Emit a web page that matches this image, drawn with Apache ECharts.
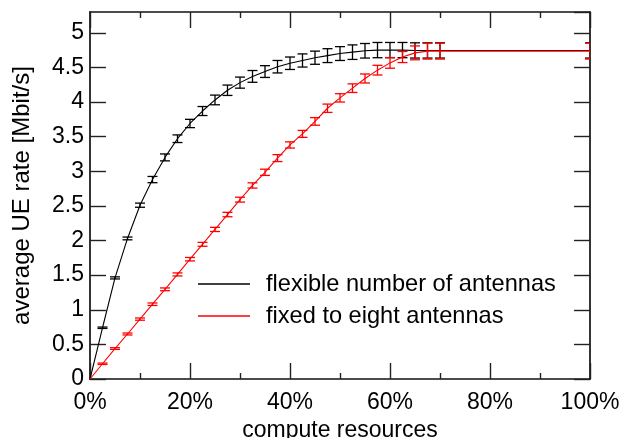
<!DOCTYPE html>
<html>
<head>
<meta charset="utf-8">
<script src="https://cdn.jsdelivr.net/npm/echarts@6/dist/echarts.min.js"></script>
<style>
  html, body { margin: 0; padding: 0; background: #fff; }
  #chart { width: 621px; height: 438px; }
</style>
</head>
<body>
<div id="chart"></div>
<script>
// Compute resources (%) at which the average UE rate was measured
const computeShare = [2.5, 5, 7.5, 10, 12.5, 15, 17.5, 20, 22.5, 25, 27.5, 30, 32.5, 35, 37.5,
                      40, 42.5, 45, 47.5, 50, 52.5, 55, 57.5, 60, 62.5, 65, 67.5, 70, 100];

// Average UE rate [Mbit/s], flexible number of antennas
const flexibleRate = [0.74, 1.46, 2.03, 2.51, 2.88, 3.20, 3.47, 3.69, 3.87, 4.03, 4.17, 4.28, 4.37, 4.44, 4.51,
                      4.56, 4.60, 4.64, 4.67, 4.70, 4.72, 4.74, 4.75, 4.75, 4.75, 4.745, 4.745, 4.745, 4.745];
const flexibleErr  = [0.01, 0.015, 0.02, 0.03, 0.045, 0.05, 0.055, 0.06, 0.065, 0.07, 0.075, 0.08, 0.085, 0.085, 0.09,
                      0.09, 0.095, 0.095, 0.1, 0.1, 0.105, 0.105, 0.11, 0.11, 0.11, 0.11, 0.11, 0.11, 0.11];

// Average UE rate [Mbit/s], fixed to eight antennas
const fixedRate = [0.22, 0.44, 0.65, 0.865, 1.08, 1.295, 1.51, 1.73, 1.945, 2.16, 2.375, 2.59, 2.795, 2.985, 3.19,
                   3.38, 3.54, 3.72, 3.91, 4.06, 4.20, 4.34, 4.46, 4.565, 4.65, 4.71, 4.735, 4.735, 4.735];
const fixedErr  = [0.01, 0.012, 0.014, 0.016, 0.018, 0.02, 0.022, 0.025, 0.028, 0.03, 0.032, 0.035, 0.038, 0.045, 0.05,
                   0.045, 0.05, 0.055, 0.06, 0.06, 0.062, 0.065, 0.07, 0.077, 0.08, 0.1, 0.115, 0.115, 0.115];

const xTicks = [0, 20, 40, 60, 80, 100];
const yTicks = [0, 0.5, 1, 1.5, 2, 2.5, 3, 3.5, 4, 4.5, 5];

const FONT = 'Liberation Sans, Arial, Helvetica, sans-serif';
const BLACK = '#000000';
const RED = '#ff0000';

function linePoints(xs, ys) {
  const pts = [[0, 0]];
  xs.forEach((x, i) => pts.push([x, ys[i]]));
  return pts;
}
function errPoints(xs, ys, es) {
  return xs.map((x, i) => [x, ys[i], es[i]]);
}
function errorBars(color) {
  return function (params, api) {
    const x = api.value(0), y = api.value(1), e = api.value(2);
    const lo = api.coord([x, y - e]);
    const hi = api.coord([x, y + e]);
    const w = 5;
    const style = { stroke: color, lineWidth: 1.3, fill: null };
    return {
      type: 'group',
      children: [
        { type: 'line', shape: { x1: lo[0], y1: lo[1], x2: hi[0], y2: hi[1] }, style },
        { type: 'line', shape: { x1: lo[0] - w, y1: lo[1], x2: lo[0] + w, y2: lo[1] }, style },
        { type: 'line', shape: { x1: hi[0] - w, y1: hi[1], x2: hi[0] + w, y2: hi[1] }, style }
      ]
    };
  };
}

const axisLine = { show: true, onZero: false, lineStyle: { color: '#111', width: 1.7 } };
const tickStyle = { color: '#222', width: 1.4 };

const chart = echarts.init(document.getElementById('chart'), null, { renderer: 'canvas' });
chart.setOption({
  animation: false,
  backgroundColor: '#ffffff',
  textStyle: { fontFamily: FONT },
  grid: { left: 90, right: 31, top: 12, bottom: 59, containLabel: false, outerBoundsMode: 'none' },
  legend: {
    data: ['flexible number of antennas', 'fixed to eight antennas'],
    orient: 'vertical',
    left: 198,
    top: 272,
    padding: 0,
    icon: 'rect',
    itemWidth: 52,
    itemHeight: 1.3,
    itemGap: 8,
    textStyle: { fontFamily: FONT, fontSize: 23.6, color: BLACK, lineHeight: 23.6, padding: [0, 0, 0, 11] }
  },
  xAxis: [
    {
      type: 'value', position: 'bottom', min: xTicks[0], max: xTicks[xTicks.length - 1], interval: 20,
      name: 'compute resources', nameLocation: 'middle', nameGap: 37,
      nameTextStyle: { fontFamily: FONT, fontSize: 23, color: BLACK },
      axisLine,
      axisTick: { show: true, inside: true, length: 16, lineStyle: tickStyle },
      minorTick: { show: true, splitNumber: 2, length: 6, lineStyle: tickStyle },
      splitLine: { show: false },
      axisLabel: { fontFamily: FONT, fontSize: 23, color: BLACK, margin: 12, formatter: '{value}%' }
    },
    {
      type: 'value', position: 'top', min: xTicks[0], max: xTicks[xTicks.length - 1], interval: 20,
      axisLine,
      axisTick: { show: true, inside: true, length: 16, lineStyle: tickStyle },
      minorTick: { show: true, splitNumber: 2, length: 6, lineStyle: tickStyle },
      splitLine: { show: false },
      axisLabel: { show: false }
    }
  ],
  yAxis: [
    {
      type: 'value', position: 'left', min: yTicks[0], max: 5.3, interval: 0.5,
      name: 'average UE rate [Mbit/s]', nameLocation: 'middle', nameGap: 56,
      nameTextStyle: { fontFamily: FONT, fontSize: 24, color: BLACK },
      axisLine,
      axisTick: { show: true, inside: true, length: 16, lineStyle: tickStyle },
      splitLine: { show: false },
      axisLabel: { fontFamily: FONT, fontSize: 23, color: BLACK, margin: 6, showMaxLabel: false }
    },
    {
      type: 'value', position: 'right', min: yTicks[0], max: 5.3, interval: 0.5,
      axisLine,
      axisTick: { show: true, inside: true, length: 16, lineStyle: tickStyle },
      splitLine: { show: false },
      axisLabel: { show: false }
    }
  ],
  series: [
    {
      name: 'flexible number of antennas', type: 'line', xAxisIndex: 0, yAxisIndex: 0,
      data: linePoints(computeShare, flexibleRate),
      symbol: 'none', clip: true,
      lineStyle: { color: BLACK, width: 1.1 }, itemStyle: { color: BLACK }
    },
    {
      name: 'fixed to eight antennas', type: 'line', xAxisIndex: 0, yAxisIndex: 0,
      data: linePoints(computeShare, fixedRate),
      symbol: 'none', clip: true,
      lineStyle: { color: RED, width: 1.1 }, itemStyle: { color: RED }
    },
    {
      name: 'flexible error', type: 'custom', xAxisIndex: 0, yAxisIndex: 0, clip: true,
      data: errPoints(computeShare, flexibleRate, flexibleErr),
      renderItem: errorBars(BLACK), encode: { x: 0, y: [1] }, z: 3
    },
    {
      name: 'fixed error', type: 'custom', xAxisIndex: 0, yAxisIndex: 0, clip: true,
      data: errPoints(computeShare, fixedRate, fixedErr),
      renderItem: errorBars(RED), encode: { x: 0, y: [1] }, z: 4
    }
  ]
});
</script>
</body>
</html>
